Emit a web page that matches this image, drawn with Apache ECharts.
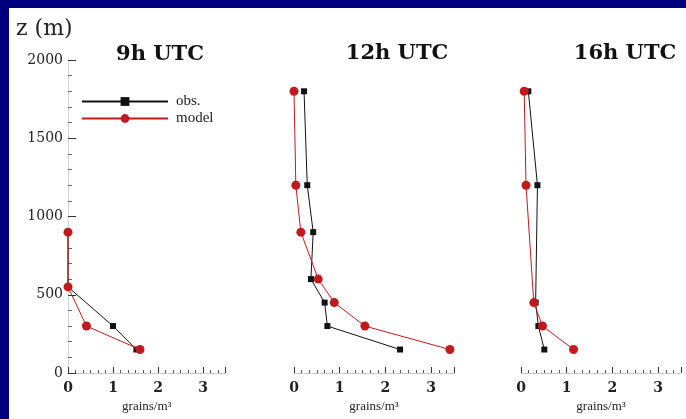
<!DOCTYPE html>
<html>
<head>
<meta charset="utf-8">
<script src="https://cdn.jsdelivr.net/npm/echarts@6/dist/echarts.min.js"></script>
<style>
html,body{margin:0;padding:0;background:#00007e;width:686px;height:419px;overflow:hidden;}
#panel{position:absolute;left:9px;top:8px;width:677px;height:411px;background:#ffffff;}
#chart{position:absolute;left:0;top:0;width:686px;height:419px;}
</style>
</head>
<body>
<div id="panel"></div>
<div id="chart"></div>
<script>
// ---- data ----
const panelTitles = ['9h UTC', '12h UTC', '16h UTC'];
const legendNames = ['obs.', 'model'];
const xTicks = [0, 1, 2, 3];
const yTicks = [0, 500, 1000, 1500, 2000];

// 9h UTC
const z9 = [900, 550, 300, 150];
const obs9 = [0.0, 0.0, 1.0, 1.52];
const model9 = [0.0, 0.0, 0.41, 1.6];
// 12h UTC
const z12 = [1800, 1200, 900, 600, 450, 300, 150];
const obs12 = [0.22, 0.29, 0.42, 0.37, 0.67, 0.73, 2.32];
const model12 = [0.0, 0.04, 0.15, 0.53, 0.88, 1.55, 3.41];
// 16h UTC
const z16 = [1800, 1200, 450, 300, 150];
const obs16 = [0.16, 0.36, 0.32, 0.38, 0.51];
const model16 = [0.07, 0.11, 0.28, 0.47, 1.15];

const panels = [
  {z: z9, obs: obs9, model: model9},
  {z: z12, obs: obs12, model: model12},
  {z: z16, obs: obs16, model: model16}
];

// ---- layout ----
const grids = [
  {left: 68, top: 60, width: 157.5, height: 313},
  {left: 294, top: 60, width: 160, height: 313},
  {left: 521, top: 60, width: 160, height: 313}
];
const titlePos = [[160, 55], [397, 54], [625, 54]];

const pair = (xs, zs) => xs.map((x, i) => [x, zs[i]]);

const series = [];
panels.forEach((p, i) => {
  series.push({
    name: legendNames[0], type: 'line', xAxisIndex: i, yAxisIndex: i,
    data: pair(p.obs, p.z), symbol: 'rect', symbolSize: 6,
    itemStyle: {color: '#111'}, lineStyle: {color: '#111', width: 1}, z: 2
  });
  series.push({
    name: legendNames[1], type: 'line', xAxisIndex: i, yAxisIndex: i,
    data: pair(p.model, p.z), symbol: 'circle', symbolSize: 9,
    itemStyle: {color: '#c01a1e'}, lineStyle: {color: '#c01a1e', width: 1}, z: 3
  });
});

const option = {
  animation: false,
  textStyle: {fontFamily: 'DejaVu Serif'},
  grid: grids,
  legend: {
    left: 76, top: 89, orient: 'vertical', itemWidth: 86, itemHeight: 11, itemGap: 2,
    data: legendNames,
    textStyle: {fontFamily: 'Liberation Serif', fontSize: 15, color: '#222', padding: [0, 0, 0, 3]}
  },
  xAxis: grids.map((g, i) => ({
    gridIndex: i, type: 'value', min: xTicks[0], max: 3.5, interval: 1,
    axisLine: {show: true, lineStyle: {color: '#b8b8b8', type: 'dotted', width: 1}},
    axisTick: {show: true, inside: true, length: 6, lineStyle: {color: '#333'}},
    minorTick: {show: true, splitNumber: 6, length: 3, lineStyle: {color: '#555'}},
    splitLine: {show: false},
    axisLabel: {
      showMaxLabel: false, margin: 8,
      formatter: v => (xTicks.indexOf(v) >= 0 ? String(v) : ''),
      fontFamily: 'DejaVu Serif', fontWeight: 'bold', fontSize: 14, color: '#222'
    },
    name: 'grains/m³', nameLocation: 'middle', nameGap: 24,
    nameTextStyle: {fontFamily: 'Liberation Serif', fontSize: 13, color: '#222'}
  })),
  yAxis: grids.map((g, i) => ({
    gridIndex: i, type: 'value', min: yTicks[0], max: yTicks[yTicks.length - 1], interval: 500,
    show: i === 0,
    axisLine: {show: true, lineStyle: {color: '#c8c8c8', type: 'dotted', width: 1}},
    axisTick: {show: true, inside: true, length: 8, lineStyle: {color: '#333'}},
    minorTick: {show: true, splitNumber: 5, length: 4, lineStyle: {color: '#666'}},
    splitLine: {show: false},
    axisLabel: {margin: 5, formatter: v => String(v), fontFamily: 'DejaVu Serif', fontSize: 14, color: '#222'}
  })),
  graphic: [
    {type: 'text', x: 16, y: 29, style: {text: 'z (m)', font: '22px "DejaVu Serif"', fill: '#222', textAlign: 'left', textVerticalAlign: 'middle'}}
  ].concat(panelTitles.map((t, i) => ({
    type: 'text', x: titlePos[i][0], y: titlePos[i][1],
    style: {text: t, font: 'bold 21px "DejaVu Serif"', fill: '#111', textAlign: 'center', textVerticalAlign: 'middle'}
  }))),
  series: series
};

const chart = echarts.init(document.getElementById('chart'), null, {renderer: 'canvas'});
chart.setOption(option);
</script>
</body>
</html>
